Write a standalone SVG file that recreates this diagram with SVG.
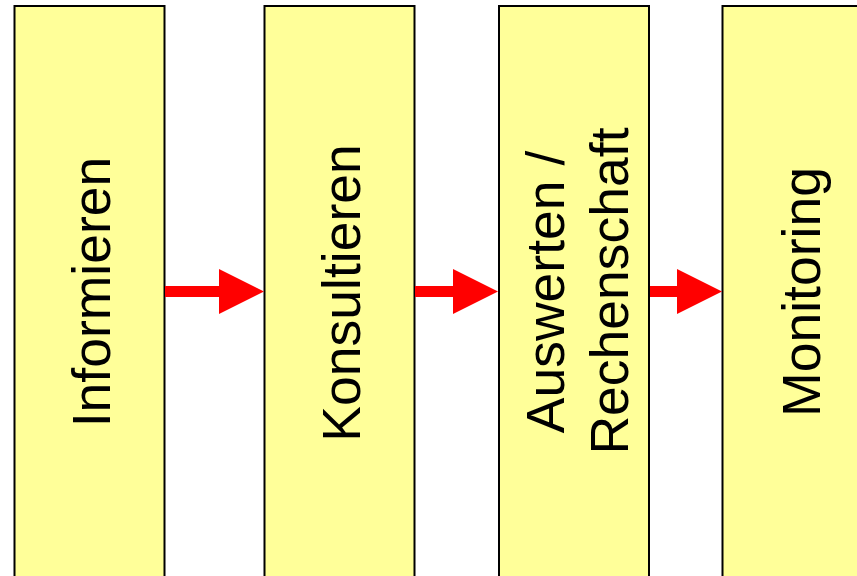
<svg xmlns="http://www.w3.org/2000/svg" width="857" height="576" viewBox="0 0 857 576">
  <style>
    .box { fill: #FFFF99; stroke: #000000; stroke-width: 2; }
    .lbl { font-family: "Liberation Sans", Arial, sans-serif; font-size: 53.5px; fill: #000000; text-anchor: middle; }
    .arrow { fill: #FF0000; stroke: none; }
  </style>
  <rect x="0" y="0" width="857" height="576" fill="#FFFFFF"/>

  <g id="node-informieren">
    <rect class="box" x="14.5" y="6" width="150" height="600"/>
    <text class="lbl" transform="translate(109.5 292) rotate(-90)">Informieren</text>
  </g>

  <g id="node-konsultieren">
    <rect class="box" x="264.5" y="6" width="150" height="600"/>
    <text class="lbl" transform="translate(359.5 293) rotate(-90)">Konsultieren</text>
  </g>

  <g id="node-auswerten">
    <rect class="box" x="499" y="6" width="150" height="600"/>
    <text class="lbl" transform="translate(563.5 292) rotate(-90)">Auswerten /</text>
    <text class="lbl" transform="translate(627.5 291) rotate(-90)">Rechenschaft</text>
  </g>

  <g id="node-monitoring">
    <rect class="box" x="722.5" y="6" width="150" height="600"/>
    <text class="lbl" transform="translate(820 292) rotate(-90)">Monitoring</text>
  </g>

  <g id="connectors">
    <polygon class="arrow" points="165,286 219,286 219,269 264,291.5 219,314 219,297 165,297"/>
    <polygon class="arrow" points="415,286 453,286 453,269 498,291.5 453,314 453,297 415,297"/>
    <polygon class="arrow" points="650,286 677,286 677,269 722,291.5 677,314 677,297 650,297"/>
  </g>
</svg>
